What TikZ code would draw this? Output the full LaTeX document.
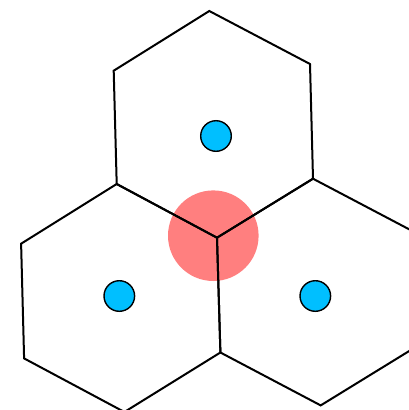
\documentclass[tikz,border=0pt]{standalone}
\usepackage{tikz}
\usetikzlibrary{calc}
\definecolor{SeedBlue}{HTML}{00BFFF}
\definecolor{JointRed}{HTML}{FF7F7F}
\tikzset{
  hexedge/.style={draw=black,line width=2pt,line join=miter},
  joint/.style={fill=JointRed},
  seed/.style={fill=SeedBlue,draw=black,line width=1.4pt}
}
\newcommand{\CellCoords}{%
  \coordinate (C) at (217,237.7);
  \coordinate (T0) at (209.3,11);
  \coordinate (T1) at (310,64);
  \coordinate (T2) at (313,178.7);
  \coordinate (T4) at (116.7,184);
  \coordinate (T5) at (113.7,70.7);
  \coordinate (L1) at (21.1,243.7);
  \coordinate (L2) at (24.1,358.4);
  \coordinate (L3) at (124.4,412);
  \coordinate (M) at (220.4,352.5);
  \coordinate (R1) at (413.7,231.7);
  \coordinate (R2) at (416.7,346.4);
  \coordinate (R3) at (320.7,405.4);
}

\begin{document}
\begin{tikzpicture}[x=1pt,y=-1pt]
  \useasboundingbox (0,0) rectangle (409,410);
  \clip (0,0) rectangle (409,410);
  \CellCoords
  % shared corner
  \fill[joint] (213.3,235.7) circle (45.3);
  % three cells
  \draw[hexedge] (T0)--(T1)--(T2)--(C)--(T4)--(T5)--cycle;
  \draw[hexedge] (T4)--(L1)--(L2)--(L3)--(M)--(C)--cycle;
  \draw[hexedge] (T2)--(R1)--(R2)--(R3)--(M)--(C)--cycle;
  % cell sites
  \foreach \p in {(216,136),(119.3,296),(315.3,296)}{
    \filldraw[seed] \p circle (15.3);
  }
\end{tikzpicture}
\end{document}
